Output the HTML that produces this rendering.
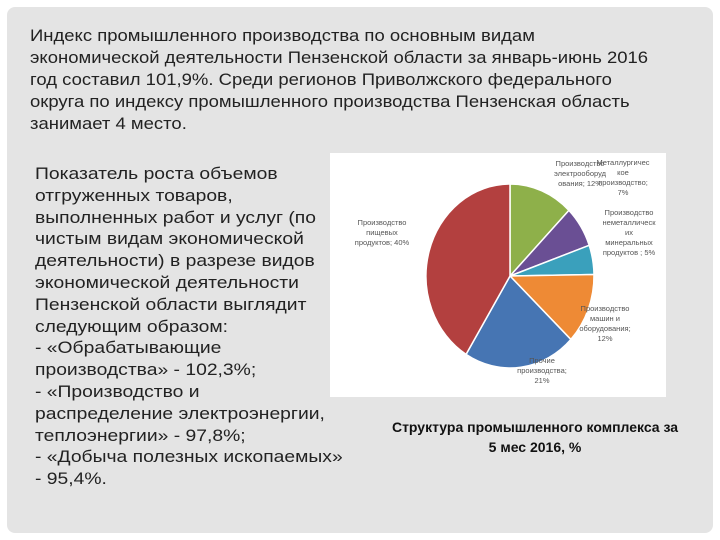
<!DOCTYPE html>
<html><head><meta charset="utf-8"><style>
body{margin:0;width:720px;height:540px;background:#fff;position:relative;overflow:hidden;font-family:"Liberation Sans","DejaVu Sans",sans-serif}
#slide{position:absolute;left:7px;top:7px;width:706px;height:526px;background:#e4e4e4;border-radius:8px}
.t{position:absolute;color:#222;font-size:16.5px;line-height:22px;white-space:nowrap;transform-origin:0 0}
#cap{position:absolute;left:350px;top:417px;width:370px;text-align:center;font-weight:bold;font-size:14px;line-height:20px;color:#111}
#chart{position:absolute;left:330px;top:153px;width:336px;height:244px;background:#fff}
</style></head><body>
<div id="slide"></div>
<div class="t" style="left:30px;top:25px;transform:scaleX(1.12)">Индекс промышленного производства по основным видам<br>экономической деятельности Пензенской области за январь-июнь 2016<br>год составил 101,9%. Среди регионов Приволжского федерального<br>округа по индексу промышленного производства Пензенская область<br>занимает 4 место.</div>
<div class="t" style="left:35px;top:164px;line-height:21.8px;transform:scaleX(1.17)">Показатель роста объемов<br>отгруженных товаров,<br>выполненных работ и услуг (по<br>чистым видам экономической<br>деятельности) в разрезе видов<br>экономической деятельности<br>Пензенской области выглядит<br>следующим образом:<br>- «Обрабатывающие<br>производства» - 102,3%;<br>- «Производство и<br>распределение электроэнергии,<br>теплоэнергии» - 97,8%;<br>- «Добыча полезных ископаемых»<br>- 95,4%.</div>
<div id="chart"><svg id="svg" width="336" height="244" font-family="Liberation Sans, sans-serif" font-size="7.5" fill="#555"></svg></div>
<div id="cap">Структура промышленного комплекса за<br>5 мес 2016, %</div>
<script>
const categories=["Производство электрооборудования","Металлургическое производство","Производство неметаллических минеральных продуктов","Производство машин и оборудования","Прочие производства","Производство пищевых продуктов"];
const values=[12,7,5,12,21,40];
const colors=["#8eb04a","#6a4f94","#3aa0bc","#ee8a35","#4675b3","#b3403f"];
const labels=[["Производство","электрооборуд","ования; 12%"],["Металлургичес","кое","производство;","7%"],["Производство","неметаллическ","их","минеральных","продуктов ; 5%"],["Производство","машин и","оборудования;","12%"],["Прочие","производства;","21%"],["Производство","пищевых","продуктов; 40%"]];
const svg=document.getElementById('svg');const NS='http://www.w3.org/2000/svg';
const cx=180,cy=123,rx=84,ry=92;
const total=values.reduce((a,b)=>a+b,0);
const lpos=[[250,13],[293,12],[299,62],[275,158],[212,210],[52,72]];
let a0=0;
values.forEach((v,i)=>{
 const a1=a0+v/total*2*Math.PI;
 const p=(a)=>[cx+rx*Math.sin(a),cy-ry*Math.cos(a)];
 const [x0,y0]=p(a0),[x1,y1]=p(a1);
 const path=document.createElementNS(NS,'path');
 path.setAttribute('d',`M${cx},${cy}L${x0},${y0}A${rx},${ry} 0 ${a1-a0>Math.PI?1:0} 1 ${x1},${y1}Z`);
 path.setAttribute('fill',colors[i]);path.setAttribute('stroke','#fff');path.setAttribute('stroke-width','1.5');
 
 
 svg.appendChild(path);
 const t=document.createElementNS(NS,'text');
 t.setAttribute('text-anchor','middle');
 
 
 labels[i].forEach((s,k)=>{const ts=document.createElementNS(NS,'tspan');ts.setAttribute('x',lpos[i][0]);ts.setAttribute('y',lpos[i][1]+k*10);ts.textContent=s;t.appendChild(ts);});
 svg.appendChild(t);
 a0=a1;
});
</script>
</body></html>
